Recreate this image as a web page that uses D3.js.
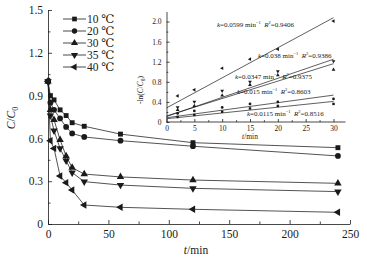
<!DOCTYPE html>
<html><head><meta charset="utf-8">
<script src="https://cdn.jsdelivr.net/npm/d3@7"></script>
<style>
html,body{margin:0;padding:0;background:#fff;}
svg{display:block;font-family:"Liberation Serif","DejaVu Serif",serif;}
</style></head>
<body><svg id="c" width="367" height="261"></svg>
<script>
// ---------- data ----------
const seriesNames = ["10 ℃","20 ℃","30 ℃","35 ℃","40 ℃"];
const times = [0, 2, 5, 10, 15, 20, 30, 60, 120, 240];
const c10 = [1.0, 0.90, 0.87, 0.80, 0.76, 0.71, 0.685, 0.63, 0.57, 0.535];
const c20 = [1.0, 0.85, 0.80, 0.74, 0.68, 0.635, 0.61, 0.584, 0.545, 0.477];
const c30 = [1.0, 0.80, 0.73, 0.59, 0.476, 0.395, 0.35, 0.33, 0.308, 0.285];
const c35 = [1.0, 0.76, 0.654, 0.53, 0.444, 0.36, 0.297, 0.273, 0.25, 0.227];
const c40 = [1.0, 0.584, 0.53, 0.336, 0.29, 0.238, 0.133, 0.117, 0.103, 0.082];
const xTicks = [0, 50, 100, 150, 200, 250];
const yTicks = [0, 0.3, 0.6, 0.9, 1.2, 1.5];

// inset: -ln(C/C0) vs t
const insetTimes = [2, 5, 10, 15, 20, 30];
const l10 = [0.10, 0.14, 0.205, 0.27, 0.32, 0.36];
const l20 = [0.17, 0.22, 0.29, 0.36, 0.40, 0.46];
const l30 = [0.24, 0.32, 0.53, 0.74, 0.93, 1.04];
const l35 = [0.29, 0.40, 0.62, 0.80, 1.01, 1.21];
const l40 = [0.52, 0.64, 1.07, 1.25, 1.45, 2.01];
const kValues = ["0.0115", "0.015", "0.0347", "0.038", "0.0599"];
const r2Values = ["0.8516", "0.8603", "0.9375", "0.9386", "0.9406"];
const slopes = [0.0115, 0.015, 0.0347, 0.038, 0.0599];
const intercepts = [0.065, 0.085, 0.12, 0.11, 0.28];
const insetXTicks = [0, 5, 10, 15, 20, 25, 30];
const insetYTicks = [0, 0.4, 0.8, 1.2, 1.6, 2.0];

// ---------- drawing ----------
const svg = d3.select("#c");
const ink = "#1a1a1a";
const mainSeries = [c10, c20, c30, c35, c40];
const insetSeries = [l10, l20, l30, l35, l40];

function marker(i, size) {
  const types = [d3.symbolSquare, d3.symbolCircle, d3.symbolTriangle, d3.symbolTriangle, d3.symbolTriangle];
  return { path: d3.symbol().type(types[i]).size(size)(), rot: [0, 0, 0, 180, -90][i] };
}

// main scales
const x = d3.scaleLinear().domain([0, 250]).range([48, 350]);
const y = d3.scaleLinear().domain([0, 1.5]).range([224, 10]);

const gx = svg.append("g").attr("transform", "translate(0,224)")
  .call(d3.axisBottom(x).tickValues(xTicks).tickSizeInner(-4).tickSizeOuter(0).tickPadding(6).tickFormat(d3.format("d")));
const gxm = svg.append("g").attr("transform", "translate(0,224)")
  .call(d3.axisBottom(x).tickValues(d3.range(25, 250, 50)).tickSize(-2.5).tickFormat(""));
gxm.select(".domain").remove();
const gy = svg.append("g").attr("transform", "translate(48,0)")
  .call(d3.axisLeft(y).tickValues(yTicks).tickSizeInner(-4).tickSizeOuter(0).tickPadding(5)
    .tickFormat(d => d === 0 ? "0" : d3.format(".1f")(d)));
const gym = svg.append("g").attr("transform", "translate(48,0)")
  .call(d3.axisLeft(y).tickValues(d3.range(0.15, 1.5, 0.3)).tickSize(-2.5).tickFormat(""));
gym.select(".domain").remove();
[gx, gy].forEach(g => g.selectAll("text").attr("font-size", 11.5).attr("fill", ink)
  .attr("font-family", "Liberation Serif, serif"));
svg.selectAll(".domain, .tick line").attr("stroke", ink).attr("stroke-width", 0.9);

// axis titles
const xt = svg.append("text").attr("x", 196).attr("y", 254).attr("text-anchor", "middle")
  .attr("font-size", 11.5).attr("fill", ink);
xt.append("tspan").attr("font-style", "italic").text("t");
xt.append("tspan").text("/min");
const yt = svg.append("text").attr("transform", "translate(15,118) rotate(-90)").attr("text-anchor", "middle")
  .attr("font-size", 11.5).attr("fill", ink);
yt.append("tspan").attr("font-style", "italic").text("C");
yt.append("tspan").text("/");
yt.append("tspan").attr("font-style", "italic").text("C");
yt.append("tspan").attr("font-size", 8).attr("dy", 3).text("0");

// main series
const line = d3.line().x((d, j) => x(times[j])).y(d => y(d));
mainSeries.forEach((vals, i) => {
  svg.append("path").attr("d", line(vals)).attr("fill", "none").attr("stroke", ink).attr("stroke-width", 0.75);
  const m = marker(i, i === 1 ? 26 : 24);
  svg.append("g").selectAll("path").data(vals).join("path")
    .attr("d", m.path)
    .attr("transform", (d, j) => `translate(${x(times[j])},${y(d)}) rotate(${m.rot})`)
    .attr("fill", ink);
});

// legend
seriesNames.forEach((name, i) => {
  const ly = 19 + i * 12;
  svg.append("line").attr("x1", 63).attr("x2", 86).attr("y1", ly).attr("y2", ly)
    .attr("stroke", ink).attr("stroke-width", 0.8);
  const m = marker(i, 22);
  svg.append("path").attr("d", m.path).attr("transform", `translate(74.5,${ly}) rotate(${m.rot})`).attr("fill", ink);
  svg.append("text").attr("x", 87).attr("y", ly + 4).attr("font-size", 11.5).attr("fill", ink).text(name);
});

// ---------- inset ----------
const ix = d3.scaleLinear().domain([0, 30]).range([166.5, 333.5]);
const iy = d3.scaleLinear().domain([0, 2.2]).range([122, 11.5]);
const ixEnd = 345.5;

const igx = svg.append("g").attr("transform", "translate(0,122)")
  .call(d3.axisBottom(ix).tickValues(insetXTicks).tickSizeInner(-3).tickSizeOuter(0).tickPadding(4).tickFormat(d3.format("d")));
igx.select(".domain").attr("d", `M166.5,0H${ixEnd}`);
const igxm = svg.append("g").attr("transform", "translate(0,122)")
  .call(d3.axisBottom(ix).tickValues(d3.range(2.5, 32, 5)).tickSize(-1.8).tickFormat(""));
igxm.select(".domain").remove();
const igy = svg.append("g").attr("transform", "translate(166.5,0)")
  .call(d3.axisLeft(iy).tickValues(insetYTicks).tickSizeInner(-3).tickSizeOuter(0).tickPadding(5)
    .tickFormat(d => d === 0 ? "0" : d3.format(".1f")(d)));
const igym = svg.append("g").attr("transform", "translate(166.5,0)")
  .call(d3.axisLeft(iy).tickValues(d3.range(0.2, 2.2, 0.4)).tickSize(-1.8).tickFormat(""));
igym.select(".domain").remove();
[igx, igy].forEach(g => g.selectAll("text").attr("font-size", 7.5).attr("fill", ink)
  .attr("font-family", "Liberation Serif, serif"));
svg.selectAll(".domain, .tick line").attr("stroke", ink).attr("stroke-width", 0.8);

const ixt = svg.append("text").attr("x", 250).attr("y", 139).attr("text-anchor", "middle")
  .attr("font-size", 7.5).attr("fill", ink);
ixt.append("tspan").attr("font-style", "italic").text("t");
ixt.append("tspan").text("/min");
const iyt = svg.append("text").attr("transform", "translate(143,90) rotate(-90)").attr("text-anchor", "middle")
  .attr("font-size", 7.5).attr("fill", ink);
iyt.append("tspan").text("-ln(");
iyt.append("tspan").attr("font-style", "italic").text("C");
iyt.append("tspan").text("/");
iyt.append("tspan").attr("font-style", "italic").text("C");
iyt.append("tspan").attr("font-size", 5.5).attr("dy", 2).text("0");
iyt.append("tspan").attr("dy", -2).text(")");

// fit lines and points
insetSeries.forEach((vals, i) => {
  svg.append("line").attr("x1", ix(0)).attr("y1", iy(intercepts[i]))
    .attr("x2", ix(30)).attr("y2", iy(intercepts[i] + slopes[i] * 30))
    .attr("stroke", ink).attr("stroke-width", 0.7);
  const m = marker(i, 6);
  svg.append("g").selectAll("path").data(vals).join("path")
    .attr("d", m.path)
    .attr("transform", (d, j) => `translate(${ix(insetTimes[j])},${iy(d)}) rotate(${m.rot})`)
    .attr("fill", ink);
});

// fit labels
const labelPos = [[247, 116], [237, 94], [235, 79], [258, 58], [217, 27]];
kValues.forEach((k, i) => {
  const t = svg.append("text").attr("x", labelPos[i][0]).attr("y", labelPos[i][1])
    .attr("font-size", 7).attr("fill", ink);
  t.append("tspan").attr("font-style", "italic").text("k");
  t.append("tspan").text("=" + k + " min");
  t.append("tspan").attr("font-size", 4.5).attr("dy", -3).text("−1");
  t.append("tspan").attr("dy", 3).text("\u00a0\u00a0");
  t.append("tspan").attr("font-style", "italic").text("R");
  t.append("tspan").attr("font-size", 4.5).attr("dy", -3).text("2");
  t.append("tspan").attr("dy", 3).text("=" + r2Values[i]);
});
</script></body></html>
